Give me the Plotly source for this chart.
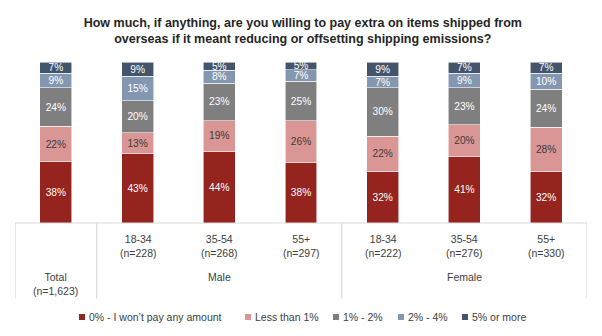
import plotly.graph_objects as go

categories = ["Total", "M 18-34", "M 35-54", "M 55+", "F 18-34", "F 35-54", "F 55+"]
tick_top = ["", "18-34<br>(n=228)", "35-54<br>(n=268)", "55+<br>(n=297)",
            "18-34<br>(n=222)", "35-54<br>(n=276)", "55+<br>(n=330)"]
total_label = "Total<br>(n=1,623)"
group_labels = ["Male", "Female"]

series_names = ["0% - I won\u2019t pay any amount", "Less than 1%", "1% - 2%", "2% - 4%", "5% or more"]
v_zero = [38, 43, 44, 38, 32, 41, 32]
v_lt1 = [22, 13, 19, 26, 22, 20, 28]
v_1to2 = [24, 20, 23, 25, 30, 23, 24]
v_2to4 = [9, 15, 8, 7, 7, 9, 10]
v_5plus = [7, 9, 5, 5, 9, 7, 7]

colors = ["#95231E", "#DA9694", "#7F7F7F", "#8497B0", "#44546A"]
text_colors = ["#FFFFFF", "#3A3A3A", "#FFFFFF", "#FFFFFF", "#FFFFFF"]

FONT = "Liberation Sans, Arial, sans-serif"

fig = go.Figure()
for name, vals, col, tcol in zip(series_names, [v_zero, v_lt1, v_1to2, v_2to4, v_5plus], colors, text_colors):
    fig.add_trace(go.Bar(
        x=categories, y=vals, name=name,
        marker=dict(color=col, line=dict(color="rgba(255,255,255,0.8)", width=0.7)),
        width=0.39,
        text=[f"{v}%" for v in vals], textposition="inside", insidetextanchor="middle",
        textangle=0, constraintext="none",
        textfont=dict(color=tcol, size=10.2, family=FONT),
        hoverinfo="skip", showlegend=False,
    ))

# plot area geometry (pixels)
L, R = 15.0, 587.0
TOP, BOT = 62.0, 222.7
H = BOT - TOP
W = R - L
def py(p):
    return (BOT - p) / H
def px(p):
    return (p - L) / W

fig.update_layout(
    width=602, height=336,
    margin=dict(l=L, r=602 - R, t=TOP, b=336 - BOT, autoexpand=False),
    barmode="stack", barnorm="percent",
    plot_bgcolor="white", paper_bgcolor="white",
    font=dict(family=FONT, color="#404040"),
    title=dict(
        text="How much, if anything, are you willing to pay extra on items shipped from<br>overseas if it meant reducing or offsetting shipping emissions?",
        x=0.503, xanchor="center", y=1 - 26.5 / 336, yanchor="middle",
        font=dict(size=12.5, color="#262626", family=FONT, weight="bold"),
    ),
    xaxis=dict(range=[-0.5, 6.5], showticklabels=False, showgrid=False, zeroline=False,
               showline=False, ticks=""),
    yaxis=dict(range=[0, 100], visible=False, showgrid=False, zeroline=False),
    showlegend=False,
)

line_col = "#D9D9D9"
bottom_y = py(298)
fig.add_shape(type="line", xref="paper", yref="paper", x0=0, x1=1, y0=0, y1=0,
              line=dict(color=line_col, width=1.2))
for xv in [-0.5, 0.5, 3.5, 6.5]:
    fig.add_shape(type="line", xref="x", yref="paper", x0=xv, x1=xv, y0=0, y1=bottom_y,
                  line=dict(color=line_col, width=1.2))

lab_font = dict(size=10.5, color="#404040", family=FONT)
for i, t in enumerate(tick_top):
    if t:
        fig.add_annotation(x=categories[i], xref="x", y=py(245.5), yref="paper", text=t,
                           showarrow=False, font=lab_font, xanchor="center", yanchor="middle")
fig.add_annotation(x=categories[0], xref="x", y=py(284), yref="paper", text=total_label,
                   showarrow=False, font=lab_font, xanchor="center", yanchor="middle")
fig.add_annotation(x=2, xref="x", y=py(277), yref="paper", text=group_labels[0],
                   showarrow=False, font=lab_font, yanchor="middle")
fig.add_annotation(x=5, xref="x", y=py(277), yref="paper", text=group_labels[1],
                   showarrow=False, font=lab_font, yanchor="middle")

# legend (key squares + labels)
legend_x = [79, 245, 333, 398, 462]
LY = 316.5
for name, col, lx in zip(series_names, colors, legend_x):
    fig.add_shape(type="rect", xref="paper", yref="paper",
                  x0=px(lx), x1=px(lx + 6), y0=py(LY + 3), y1=py(LY - 3),
                  fillcolor=col, line=dict(width=0))
    fig.add_annotation(x=px(lx + 8), xref="paper", y=py(LY), yref="paper", text=name,
                       showarrow=False, xanchor="left", yanchor="middle",
                       font=dict(size=10.5, color="#404040", family=FONT))

fig.write_html("out.html")
